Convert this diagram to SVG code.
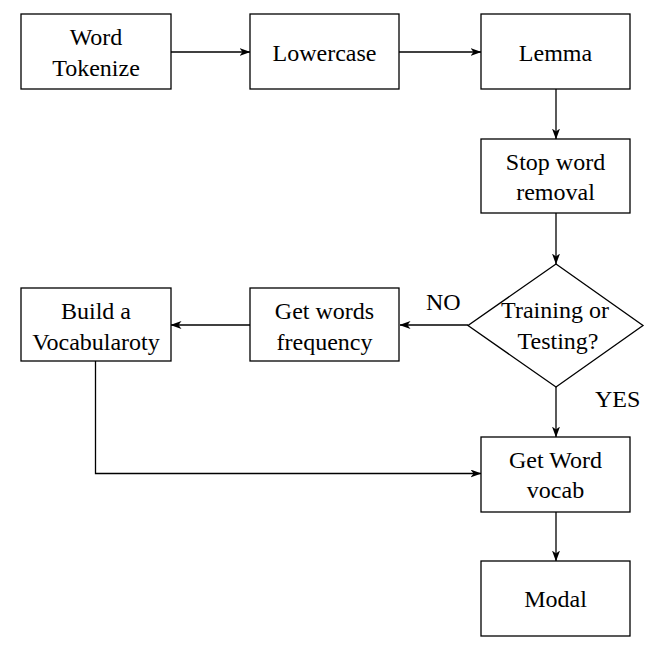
<svg xmlns="http://www.w3.org/2000/svg" width="660" height="662" viewBox="0 0 660 662">
<style>
.box{fill:#fff;stroke:#000;stroke-width:1.3}
.c{fill:none;stroke:#000;stroke-width:1.3;marker-end:url(#ah)}
text{font-family:'Liberation Serif',serif;font-size:24px;fill:#000}
.m{text-anchor:middle}
</style>
<defs>
<marker id="ah" viewBox="0 0 11 8" refX="10.5" refY="4" markerWidth="11" markerHeight="8" markerUnits="userSpaceOnUse" orient="auto">
<path d="M0,0 L11,4 L0,8 L3,4 Z" fill="#000"/>
</marker>
</defs>
<rect width="660" height="662" fill="#fff"/>
<g id="connectors">
<line class="c" x1="171" y1="52" x2="250" y2="52"/>
<line class="c" x1="399" y1="52" x2="481" y2="52"/>
<line class="c" x1="556" y1="89" x2="556" y2="139"/>
<line class="c" x1="556" y1="213" x2="556" y2="264"/>
<line class="c" x1="468" y1="325" x2="400" y2="325"/>
<line class="c" x1="250" y1="325" x2="171" y2="325"/>
<line class="c" x1="556" y1="387" x2="556" y2="437"/>
<polyline class="c" points="95.5,361 95.5,473.5 481,473.5"/>
<line class="c" x1="556" y1="512" x2="556" y2="561"/>
</g>
<g id="word-tokenize">
<rect class="box" x="21" y="14" width="150" height="75"/>
<text class="m" x="96" y="45" font-family="Liberation Serif">Word</text>
<text class="m" x="96" y="76" font-family="Liberation Serif">Tokenize</text>
</g>
<g id="lowercase">
<rect class="box" x="250" y="14" width="149" height="75"/>
<text class="m" x="324.5" y="61" font-family="Liberation Serif">Lowercase</text>
</g>
<g id="lemma">
<rect class="box" x="481" y="14" width="149" height="75"/>
<text class="m" x="555.5" y="61" font-family="Liberation Serif">Lemma</text>
</g>
<g id="stop-word-removal">
<rect class="box" x="481" y="139" width="149" height="74"/>
<text class="m" x="555.5" y="170" font-family="Liberation Serif">Stop word</text>
<text class="m" x="555.5" y="200" font-family="Liberation Serif">removal</text>
</g>
<g id="training-or-testing">
<polygon class="box" points="556,264 643,325.5 556,387 468,325.5"/>
<text class="m" x="555" y="318" font-family="Liberation Serif">Training or</text>
<text class="m" x="558" y="349" font-family="Liberation Serif">Testing?</text>
</g>
<g id="get-words-frequency">
<rect class="box" x="250" y="288" width="149" height="73"/>
<text class="m" x="324.5" y="319" font-family="Liberation Serif">Get words</text>
<text class="m" x="324.5" y="350" font-family="Liberation Serif">frequency</text>
</g>
<g id="build-vocabulary">
<rect class="box" x="21" y="288" width="150" height="73"/>
<text class="m" x="96" y="319" font-family="Liberation Serif">Build a</text>
<text class="m" x="96" y="350" font-family="Liberation Serif">Vocabularoty</text>
</g>
<g id="get-word-vocab">
<rect class="box" x="481" y="437" width="149" height="75"/>
<text class="m" x="555.5" y="468" font-family="Liberation Serif">Get Word</text>
<text class="m" x="555.5" y="498" font-family="Liberation Serif">vocab</text>
</g>
<g id="modal">
<rect class="box" x="481" y="561" width="149" height="75"/>
<text class="m" x="555.5" y="607" font-family="Liberation Serif">Modal</text>
</g>
<g id="edge-labels">
<text x="426" y="310" font-family="Liberation Serif">NO</text>
<text x="595" y="407" font-family="Liberation Serif">YES</text>
</g>
</svg>
